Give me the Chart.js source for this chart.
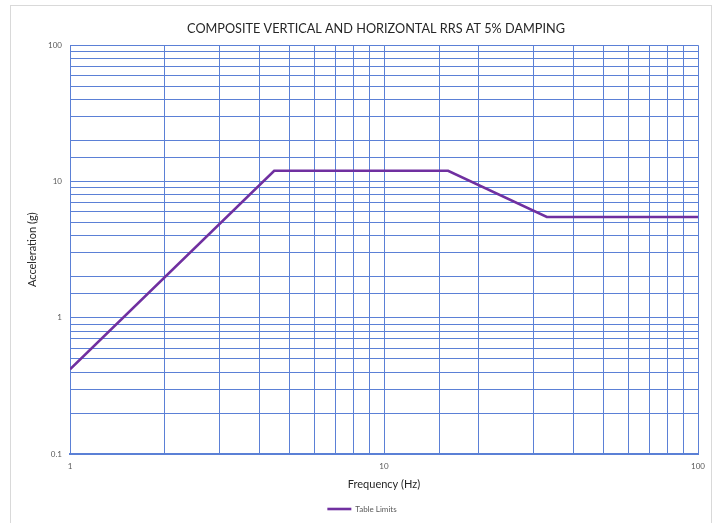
<!DOCTYPE html>
<html><head><meta charset="utf-8">
<script src="https://cdn.jsdelivr.net/npm/chart.js@4.4.1/dist/chart.umd.min.js"></script>
<style>
html,body{margin:0;padding:0;background:#fff;}
#wrap{position:absolute;left:0;top:0;width:720px;height:523px;}
#frame{position:absolute;left:10px;top:5px;width:702px;height:520px;border:1px solid #d9d9d9;box-sizing:border-box;}
canvas{position:absolute;left:0;top:0;}
</style></head>
<body>
<div id="wrap"><div id="frame"></div><canvas id="c" width="720" height="523"></canvas></div>
<script>
const frequencies = [1, 4.47, 16, 33, 100];
const accelerations = [0.42, 12, 12, 5.5, 5.5];
const seriesName = 'Table Limits';
const chartTitle = 'COMPOSITE VERTICAL AND HORIZONTAL RRS AT 5% DAMPING';
const xTitle = 'Frequency (Hz)';
const yTitle = 'Acceleration (g)';

const FONT = 'Lato, "Open Sans", sans-serif';
const isPow10 = v => Math.abs(Math.log10(v) - Math.round(Math.log10(v))) < 1e-9;
const fmt = v => (v < 1 ? v.toFixed(1) : String(Math.round(v)));
const gridColor = '#5b80d6';

const shiftTitle = {
  id: 'shiftTitle',
  afterLayout(chart) {
    if (chart.titleBlock) { chart.titleBlock.left += 28; }
  }
};

new Chart(document.getElementById('c'), {
  type: 'line',
  plugins: [shiftTitle],
  data: {
    datasets: [{
      label: seriesName,
      data: frequencies.map((f, i) => ({x: f, y: accelerations[i]})),
      borderColor: '#7030a0',
      backgroundColor: '#7030a0',
      borderWidth: 2.6,
      pointRadius: 0,
      tension: 0
    }]
  },
  options: {
    responsive: false,
    animation: false,
    layout: {padding: {left: 26, right: 22, top: 13, bottom: 0}},
    plugins: {
      title: {display: true, text: chartTitle, color: '#262626',
        font: {family: FONT, size: 12.7, weight: 'normal'}, padding: {top: 8, bottom: 9}},
      legend: {position: 'bottom',
        labels: {usePointStyle: true, pointStyle: 'line', pointStyleWidth: 24, boxWidth: 24, color: '#595959',
          font: {family: FONT, size: 8}, padding: 5}},
      tooltip: {enabled: false}
    },
    scales: {
      x: {type: 'logarithmic', min: 1, max: 100,
        grid: {color: gridColor, lineWidth: 1, drawTicks: false},
        border: {color: gridColor, width: 2},
        ticks: {autoSkip: false, maxRotation: 0, color: '#595959', padding: 7,
          font: {family: FONT, size: 8},
          callback: v => isPow10(v) ? fmt(v) : ''},
        title: {display: true, text: xTitle, color: '#262626',
          font: {family: FONT, size: 11}, padding: {top: 0, bottom: 9}}
      },
      y: {type: 'logarithmic', min: 0.1, max: 100,
        afterFit: s => { s.width = 44; },
        grid: {color: gridColor, lineWidth: 1, drawTicks: false},
        border: {color: gridColor, width: 1},
        ticks: {autoSkip: false, color: '#595959', padding: 8,
          font: {family: FONT, size: 8},
          callback: v => isPow10(v) ? fmt(v) : ''},
        title: {display: true, text: yTitle, color: '#262626',
          font: {family: FONT, size: 11}, padding: {top: 0, bottom: 4}}
      }
    }
  }
});
</script>
</body></html>
